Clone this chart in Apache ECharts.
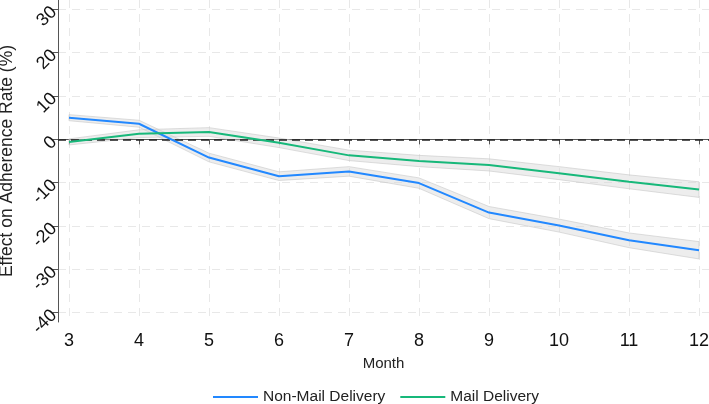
<!DOCTYPE html>
<html>
<head>
    <meta charset="utf-8">
    <script src="https://cdn.jsdelivr.net/npm/echarts@6/dist/echarts.min.js"></script>
</head>
<body style="margin:0">
    <div id="main" style="width: 709px;height:404px;"></div>
    <script type="text/javascript">
        // months
        var months = [3, 4, 5, 6, 7, 8, 9, 10, 11, 12];
        // Non-Mail Delivery estimate and band
        var nonMail = [5.0, 3.6, -4.2, -8.5, -7.4, -10.1, -16.9, -19.9, -23.3, -25.6];
        var nonMailLow = [4.3, 2.8, -5.2, -9.5, -8.5, -11.3, -18.3, -21.4, -25.0, -27.6];
        var nonMailHigh = [5.7, 4.4, -3.2, -7.5, -6.3, -8.9, -15.5, -18.4, -21.6, -23.6];
        // Mail Delivery estimate and band
        var mail = [-0.6, 1.3, 1.7, -0.8, -3.7, -5.0, -5.9, -7.8, -9.8, -11.6];
        var mailLow = [-1.3, 0.4, 0.7, -1.9, -4.9, -6.3, -7.3, -9.3, -11.4, -13.4];
        var mailHigh = [0.1, 2.2, 2.7, 0.3, -2.5, -3.7, -4.5, -6.3, -8.2, -9.8];
        var yTicks = [-40, -30, -20, -10, 0, 10, 20, 30];

        var font = 'Liberation Sans';

        function pairs(ys) {
            return months.map(function (m, i) { return [m, ys[i]]; });
        }

        // confidence band as one polygon: upper edge left->right, lower edge back
        function bandSeries(name, lo, hi) {
            var data = months.map(function (m, i) { return [m, lo[i], hi[i]]; });
            return {
                name: name,
                type: 'custom',
                silent: true,
                z: 1,
                renderItem: function (params, api) {
                    if (params.dataIndex !== 0) return;
                    var pts = [], i;
                    for (i = 0; i < data.length; i++) pts.push(api.coord([data[i][0], data[i][2]]));
                    for (i = data.length - 1; i >= 0; i--) pts.push(api.coord([data[i][0], data[i][1]]));
                    return {
                        type: 'polygon',
                        shape: {points: pts},
                        style: {fill: 'rgba(215,215,215,0.45)', stroke: 'rgba(200,200,200,0.6)', lineWidth: 1}
                    };
                },
                encode: {x: 0, y: [1, 2]},
                data: data
            };
        }

        var option = {
            animation: false,
            grid: {left: 58, right: 0, top: 0, bottom: 82, outerBoundsMode: 'none'},
            legend: {
                left: 208,
                top: 384,
                icon: 'rect',
                itemWidth: 45,
                itemHeight: 2,
                itemGap: 15,
                textStyle: {fontSize: 15.5, color: '#222', fontFamily: font},
                data: ['Non-Mail Delivery', 'Mail Delivery']
            },
            xAxis: {
                type: 'value',
                min: 2.843,
                max: 12.143,
                name: 'Month',
                nameLocation: 'middle',
                nameGap: 34,
                nameTextStyle: {fontSize: 15, color: '#222', fontFamily: font},
                axisLine: {lineStyle: {color: '#555'}},
                axisTick: {customValues: months, length: 5, lineStyle: {color: '#555'}},
                axisLabel: {customValues: months, fontSize: 18, color: '#111', margin: 10, fontFamily: font},
                splitLine: {show: true, lineStyle: {color: '#e8e8e8', type: [8, 6]}}
            },
            yAxis: {
                type: 'value',
                min: -42.15,
                max: 32.15,
                name: 'Effect on Adherence Rate (%)',
                nameLocation: 'middle',
                nameGap: 42,
                nameTextStyle: {fontSize: 17.5, color: '#222', fontFamily: font},
                axisLine: {show: true, lineStyle: {color: '#555'}},
                axisTick: {show: true, customValues: yTicks, length: 5, lineStyle: {color: '#555'}},
                axisLabel: {customValues: yTicks, rotate: 45, fontSize: 18, color: '#111', margin: 4, fontFamily: font},
                splitLine: {show: true, lineStyle: {color: '#e8e8e8', type: [8, 6]}}
            },
            series: [
                bandSeries('nm_band', nonMailLow, nonMailHigh),
                bandSeries('m_band', mailLow, mailHigh),
                {
                    name: 'Non-Mail Delivery', type: 'line', symbol: 'none',
                    itemStyle: {color: '#2288ff'},
                    lineStyle: {color: '#2288ff', width: 2},
                    data: pairs(nonMail),
                    markLine: {
                        silent: true, symbol: 'none', label: {show: false},
                        lineStyle: {color: '#222', type: [8, 5], width: 1.5},
                        data: [{yAxis: 0}]
                    },
                    z: 5
                },
                {
                    name: 'Mail Delivery', type: 'line', symbol: 'none',
                    itemStyle: {color: '#17b87a'},
                    lineStyle: {color: '#17b87a', width: 2},
                    data: pairs(mail),
                    z: 5
                }
            ]
        };

        var myChart = echarts.init(document.getElementById('main'));
        myChart.setOption(option);
    </script>
</body>
</html>
